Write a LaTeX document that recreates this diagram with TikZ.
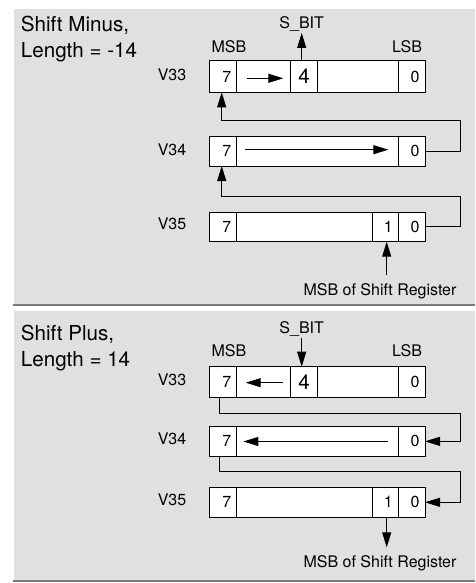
\documentclass[tikz,border=0pt]{standalone}
\usepackage{fontspec}
\setmainfont{TeX Gyre Heros}
\usetikzlibrary{arrows.meta}
\definecolor{panel}{HTML}{E0E0E0}
\definecolor{sepline}{HTML}{7A7A7A}
\tikzset{
  cell/.style={draw=black, fill=white, line width=1pt, inner sep=0pt, outer sep=0pt,
    anchor=north west, font=\fontsize{16}{18}\selectfont},
  dcell/.style={cell, align=right, inner xsep=5.5pt},
  lbl/.style={anchor=base, inner sep=0pt, font=\fontsize{16}{18}\selectfont},
  ttl/.style={anchor=base west, inner sep=0pt, font=\fontsize{20.6}{24}\selectfont},
  conn/.style={line width=1pt, black},
  arr/.style={conn, -{Triangle[length=15pt,width=9pt]}},
}
\begin{document}
\begin{tikzpicture}[x=1pt,y=-1pt]
\useasboundingbox (0,0) rectangle (475,583);
% panels
\fill[panel] (14,9) rectangle (475,304);
\fill[sepline] (13,304) rectangle (475,306.2);
\fill[panel] (14,311) rectangle (475,579.5);
\fill[sepline] (13,579.5) rectangle (475,582);

% ================= TOP PANEL =================
\node[ttl] (t1a) at (20.7,31.7) {Shift Minus,};
\node[ttl] (t1b) at (20.7,57.3) {Length = -14};
\node[lbl] (sbit1) at (301.7,28.3) {S\_BIT};
\node[lbl] (msb1) at (229,52.7) {MSB};
\node[lbl] (lsb1) at (407,52.7) {LSB};
\node[lbl] (v33a) at (172,80.7) {V33};
\node[lbl] (v34a) at (172,155.7) {V34};
\node[lbl] (v35a) at (172,229.3) {V35};

% V33
\node[dcell, text width=16.4pt, minimum height=31.3pt] (a7) at (209.3,61) {7};
\node[cell, minimum width=54pt, minimum height=31.3pt] (am) at (236.7,61) {};
\node[cell, minimum width=26.6pt, minimum height=31.3pt, font=\fontsize{20.6}{22}\selectfont] (a4) at (290.7,61) {4};
\node[cell, minimum width=81pt, minimum height=31.3pt] (an) at (317.3,61) {};
\node[dcell, text width=15.7pt, minimum height=31.3pt] (a0) at (398.3,61) {0};
% V34
\node[dcell, text width=16.4pt, minimum height=29.3pt] (b7) at (209.3,136.7) {7};
\node[cell, minimum width=161.6pt, minimum height=29.3pt] (bm) at (236.7,136.7) {};
\node[dcell, text width=15.7pt, minimum height=29.3pt] (b0) at (398.3,136.7) {0};
% V35
\node[dcell, text width=16.4pt, minimum height=29.7pt] (c7) at (209.3,212) {7};
\node[cell, minimum width=135.6pt, minimum height=29.7pt] (cm) at (236.7,212) {};
\node[dcell, text width=15pt, minimum height=29.7pt] (c1) at (372.3,212) {1};
\node[dcell, text width=15.7pt, minimum height=29.7pt] (c0) at (398.3,212) {0};
\node[lbl] (msr1) at (380,295.7) {MSB of Shift Register};

% arrows
\coordinate (sx1) at (301.7,0);
\coordinate (sb1top) at (301.7,33);
\draw[arr] (sx1 |- a4.north) -- (sb1top);
\coordinate (ia1s) at (246.7,78.3);
\coordinate (ia1e) at (283.3,78.3);
\draw[arr] (ia1s) -- (ia1e);
\coordinate (ib1s) at (245,149.7);
\coordinate (ib1e) at (388.3,149.7);
\draw[arr] (ib1s) -- (ib1e);
\coordinate (lx1) at (221.7,0);
\coordinate (rx1) at (460.3,0);
\draw[arr] (b0.east) -- (rx1 |- b0.east) -- (rx1 |- 0,121) -- (lx1 |- 0,121) -- (lx1 |- a7.south);
\draw[arr] (c0.east) -- (rx1 |- c0.east) -- (rx1 |- 0,196.7) -- (lx1 |- 0,196.7) -- (lx1 |- b7.south);
\coordinate (mx1) at (386.7,0);
\draw[arr] (mx1 |- 0,275) -- (mx1 |- c1.south);

% ================= BOTTOM PANEL =================
\node[ttl] (t2a) at (20.7,340) {Shift Plus,};
\node[ttl] (t2b) at (20.7,366) {Length = 14};
\node[lbl] (sbit2) at (301.7,333.3) {S\_BIT};
\node[lbl] (msb2) at (229,356) {MSB};
\node[lbl] (lsb2) at (407,356) {LSB};
\node[lbl] (v33b) at (172,385.7) {V33};
\node[lbl] (v34b) at (172,444.3) {V34};
\node[lbl] (v35b) at (172,505) {V35};

% V33
\node[dcell, text width=16.4pt, minimum height=31pt] (d7) at (209.3,366.7) {7};
\node[cell, minimum width=54pt, minimum height=31pt] (dm) at (236.7,366.7) {};
\node[cell, minimum width=26.6pt, minimum height=31pt, font=\fontsize{20.6}{22}\selectfont] (d4) at (290.7,366.7) {4};
\node[cell, minimum width=81pt, minimum height=31pt] (dn) at (317.3,366.7) {};
\node[dcell, text width=15.7pt, minimum height=31pt] (d0) at (398.3,366.7) {0};
% V34
\node[dcell, text width=16.4pt, minimum height=29.3pt] (e7) at (209.3,426.7) {7};
\node[cell, minimum width=161.6pt, minimum height=29.3pt] (em) at (236.7,426.7) {};
\node[dcell, text width=15.7pt, minimum height=29.3pt] (e0) at (398.3,426.7) {0};
% V35
\node[dcell, text width=16.4pt, minimum height=30pt] (f7) at (209.3,487.3) {7};
\node[cell, minimum width=135.6pt, minimum height=30pt] (fm) at (236.7,487.3) {};
\node[dcell, text width=15pt, minimum height=30pt] (f1) at (372.3,487.3) {1};
\node[dcell, text width=15.7pt, minimum height=30pt] (f0) at (398.3,487.3) {0};
\node[lbl] (msr2) at (380,567.3) {MSB of Shift Register};

% arrows
\coordinate (sb2top) at (301.7,338);
\draw[arr] (sb2top) -- (sx1 |- d4.north);
\coordinate (ia2s) at (282.7,382.7);
\coordinate (ia2e) at (245.7,382.7);
\draw[arr] (ia2s) -- (ia2e);
\coordinate (ib2s) at (387.7,441.5);
\coordinate (ib2e) at (243.3,441.5);
\draw[arr] (ib2s) -- (ib2e);
\coordinate (lx2) at (219,0);
\draw[arr] (lx2 |- d7.south) -- (lx2 |- 0,413.3) -- (rx1 |- 0,413.3) -- (rx1 |- e0.east) -- (e0.east);
\draw[arr] (lx2 |- e7.south) -- (lx2 |- 0,471.7) -- (rx1 |- 0,471.7) -- (rx1 |- f0.east) -- (f0.east);
\draw[arr] (mx1 |- f1.south) -- (mx1 |- 0,547.3);
\end{tikzpicture}
\end{document}
